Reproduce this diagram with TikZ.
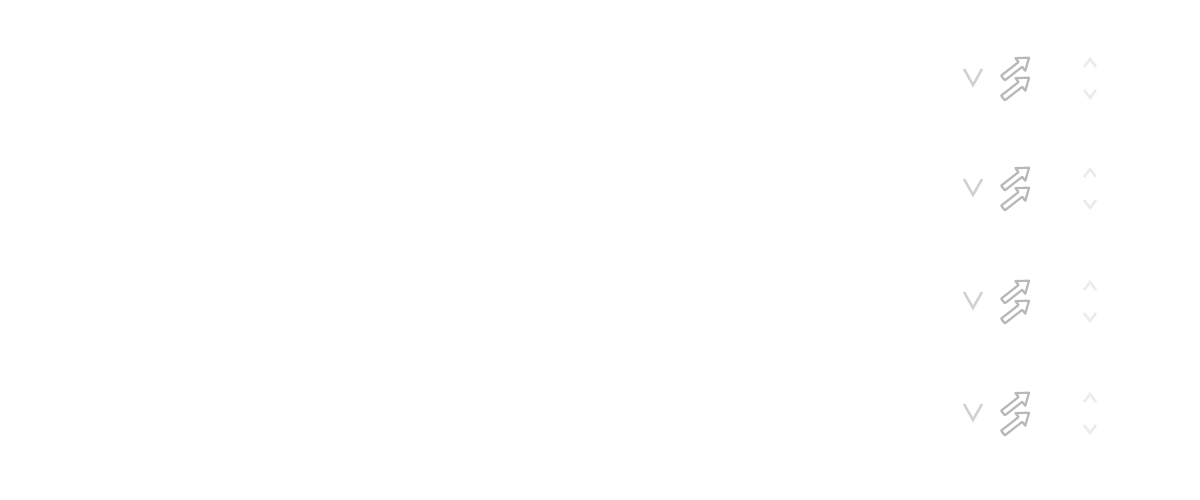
\documentclass[tikz,border=0pt]{standalone}
\begin{document}
\begin{tikzpicture}
[x=0.01cm, y=-0.01cm, chevDecorate/.style={draw=black!18, line width=0.25mm},
 lightDecorate/.style={draw=black!28, fill=white, line width=0.22mm, line join=round},
 markDecorate/.style={draw=black!8, line width=0.25mm}]
\useasboundingbox (0,0) rectangle (1200,500);

 \foreach \rowname/\y in {A/0, B/110, C/223, D/335}
 {
          % detector chevron
          \draw[chevDecorate] (964,\y+69) -- (973,\y+85) -- (982,\y+69);
          % incoming light
          \coordinate (L1\rowname) at (1003,\y+78);
          \coordinate (L2\rowname) at (1003,\y+98);
          \foreach \tail in {L1\rowname, L2\rowname}
            \draw[lightDecorate, shift={(\tail)}, rotate=38]
              (0cm,-0.03cm) -- (0.22cm,-0.03cm) -- (0.22cm,-0.08cm) -- (0.33cm,0cm)
              -- (0.22cm,0.08cm) -- (0.22cm,0.03cm) -- (0cm,0.03cm) -- cycle;
          % emitter marks
          \draw[markDecorate] (1084,\y+67) -- (1090,\y+59) -- (1096,\y+67);
          \draw[markDecorate] (1084,\y+90) -- (1090,\y+98) -- (1096,\y+90);
 }
\end{tikzpicture}
\end{document}
